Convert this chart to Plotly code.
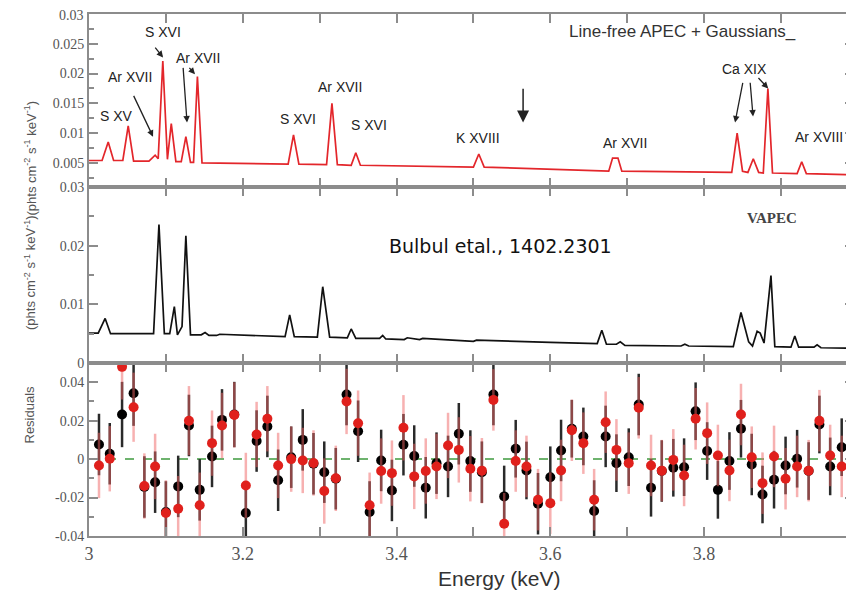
import plotly.graph_objects as go

# ---------------- data ----------------
# Top panel: line-free APEC + Gaussians model (red)
red_E = [3.000, 3.017, 3.025, 3.032, 3.044, 3.051, 3.058, 3.078, 3.086, 3.090,
         3.096, 3.102, 3.107, 3.113, 3.120, 3.126, 3.132, 3.136, 3.141, 3.147,
         3.259, 3.266, 3.273, 3.309, 3.316, 3.323, 3.341, 3.347, 3.353, 3.500,
         3.507, 3.514, 3.676, 3.681, 3.688, 3.693, 3.836, 3.843, 3.850, 3.857,
         3.864, 3.871, 3.877, 3.883, 3.889, 3.921, 3.927, 3.933, 3.995]
red_F = [0.0054, 0.0054, 0.0085, 0.0054, 0.0054, 0.0112, 0.0053, 0.0053, 0.0063, 0.0057,
         0.0221, 0.0056, 0.0116, 0.0052, 0.0052, 0.0094, 0.0051, 0.0051, 0.0195, 0.0050,
         0.0048, 0.0097, 0.0048, 0.0047, 0.0150, 0.0047, 0.0046, 0.0067, 0.0046, 0.0043,
         0.0065, 0.0043, 0.0036, 0.0058, 0.0058, 0.0036, 0.0034, 0.0100, 0.0036, 0.0034,
         0.0057, 0.0034, 0.0033, 0.0175, 0.0033, 0.0032, 0.0052, 0.0032, 0.0030]

# Middle panel: VAPEC model (black)
blk_E = [3.000, 3.012, 3.021, 3.028, 3.084, 3.091, 3.098, 3.105, 3.111, 3.115,
         3.121, 3.126, 3.132, 3.146, 3.151, 3.156, 3.166, 3.170, 3.255, 3.261,
         3.267, 3.297, 3.304, 3.313, 3.336, 3.341, 3.347, 3.378, 3.382, 3.386,
         3.410, 3.414, 3.430, 3.434, 3.500, 3.504, 3.600, 3.661, 3.667, 3.673,
         3.686, 3.691, 3.697, 3.770, 3.775, 3.780, 3.838, 3.848, 3.858, 3.863,
         3.869, 3.873, 3.878, 3.887, 3.892, 3.913, 3.918, 3.923, 3.943, 3.947,
         3.952, 3.995]
blk_F = [0.0051, 0.0051, 0.0076, 0.0050, 0.0050, 0.0236, 0.0050, 0.0050, 0.0096, 0.0048,
         0.0062, 0.0217, 0.0048, 0.0048, 0.0052, 0.0047, 0.0047, 0.0049, 0.0045, 0.0082,
         0.0045, 0.0044, 0.0130, 0.0044, 0.0043, 0.0058, 0.0042, 0.0042, 0.0047, 0.0041,
         0.0040, 0.0043, 0.0040, 0.0042, 0.0037, 0.0039, 0.0035, 0.0033, 0.0056, 0.0032,
         0.0032, 0.0036, 0.0030, 0.0029, 0.0032, 0.0029, 0.0028, 0.0086, 0.0036, 0.0029,
         0.0054, 0.0051, 0.0034, 0.0149, 0.0028, 0.0027, 0.0046, 0.0027, 0.0027, 0.0031,
         0.0026, 0.0025]

# Bottom panel: residuals
res_E = [3.013, 3.027, 3.043, 3.058, 3.072, 3.086, 3.100, 3.116, 3.130, 3.144,
         3.160, 3.173, 3.189, 3.204, 3.218, 3.232, 3.246, 3.263, 3.278, 3.292,
         3.306, 3.321, 3.335, 3.350, 3.365, 3.380, 3.394, 3.409, 3.423, 3.438,
         3.452, 3.467, 3.481, 3.496, 3.511, 3.526, 3.540, 3.555, 3.569, 3.584,
         3.600, 3.614, 3.628, 3.643, 3.657, 3.672, 3.686, 3.702, 3.715, 3.731,
         3.745, 3.760, 3.774, 3.789, 3.804, 3.818, 3.833, 3.848, 3.862, 3.876,
         3.891, 3.906, 3.921, 3.936, 3.950, 3.964, 3.979]
res_blk = [0.0076, 0.0028, 0.0232, 0.0343, -0.0145, -0.0120, -0.0275, -0.0142, 0.0175, -0.0160,
           0.0014, 0.0204, 0.0232, -0.0280, 0.0094, 0.0170, -0.0110, 0.0010, 0.0100, -0.0024,
           -0.0068, -0.0102, 0.0336, 0.0145, -0.0275, -0.0007, -0.0163, 0.0075, 0.0016, -0.0149,
           -0.0021, -0.0038, 0.0132, -0.0010, -0.0068, 0.0336, -0.0194, 0.0054, -0.0059, -0.0232,
           -0.0094, 0.0045, 0.0158, 0.0118, -0.0270, 0.0118, -0.0021, 0.0010, 0.0284, -0.0149,
           -0.0062, -0.0045, -0.0042, 0.0249, 0.0042, -0.0160, -0.0010, 0.0158, -0.0028, -0.0184,
           -0.0107, -0.0033, 0.0002, -0.0062, 0.0180, -0.0038, 0.0062]
res_blk_err = [0.016, 0.016, 0.017, 0.017, 0.016, 0.016, 0.016, 0.016, 0.016, 0.016,
               0.016, 0.016, 0.017, 0.016, 0.016, 0.016, 0.016, 0.016, 0.016, 0.016,
               0.016, 0.016, 0.016, 0.016, 0.016, 0.016, 0.016, 0.016, 0.016, 0.016,
               0.016, 0.016, 0.016, 0.016, 0.016, 0.016, 0.016, 0.015, 0.015, 0.016,
               0.016, 0.016, 0.015, 0.015, 0.016, 0.016, 0.015, 0.015, 0.016, 0.015,
               0.016, 0.015, 0.015, 0.015, 0.015, 0.015, 0.015, 0.015, 0.016, 0.015,
               0.015, 0.015, 0.015, 0.015, 0.015, 0.015, 0.015]
res_red = [-0.0033, 0.0002, 0.0480, 0.0270, -0.0140, -0.0038, -0.0280, -0.0258, 0.0200, -0.0240,
           0.0083, 0.0175, 0.0230, -0.0137, 0.0128, 0.0210, -0.0033, 0.0000, -0.0007, -0.0020,
           -0.0166, -0.0100, 0.0300, 0.0187, -0.0240, -0.0062, -0.0073, 0.0163, -0.0090, -0.0062,
           -0.0038, 0.0071, 0.0048, -0.0050, -0.0060, 0.0308, -0.0336, -0.0010, -0.0038, -0.0211,
           -0.0229, -0.0059, 0.0150, 0.0083, -0.0211, 0.0192, 0.0048, -0.0021, 0.0267, -0.0033,
           -0.0060, -0.0004, -0.0085, 0.0210, 0.0135, 0.0019, -0.0059, 0.0232, 0.0010, -0.0125,
           0.0014, -0.0102, -0.0038, -0.0060, 0.0200, 0.0019, -0.0038]
res_red_err = [0.017, 0.017, 0.017, 0.018, 0.017, 0.017, 0.017, 0.017, 0.018, 0.017,
               0.017, 0.017, 0.017, 0.017, 0.017, 0.017, 0.017, 0.017, 0.017, 0.017,
               0.017, 0.017, 0.017, 0.017, 0.017, 0.017, 0.017, 0.017, 0.017, 0.017,
               0.017, 0.017, 0.017, 0.017, 0.017, 0.016, 0.016, 0.016, 0.016, 0.016,
               0.016, 0.016, 0.016, 0.016, 0.016, 0.016, 0.016, 0.016, 0.016, 0.016,
               0.016, 0.016, 0.016, 0.016, 0.016, 0.016, 0.016, 0.016, 0.016, 0.016,
               0.016, 0.016, 0.016, 0.016, 0.016, 0.016, 0.016]

# tick labels (top label of the upper panel is drawn separately below)
top_ytick_vals = [0.005, 0.01, 0.015, 0.02, 0.025, 0.03]
top_ytick_text = ["0.005", "0.01", "0.015", "0.02", "0.025", ""]
top_label_max = "0.03"
mid_ytick_vals = [0, 0.01, 0.02, 0.03]
mid_ytick_text = ["0", "0.01", "0.02", "0.03"]
res_ytick_vals = [-0.04, -0.02, 0, 0.02, 0.04]
res_ytick_text = ["-0.04", "-0.02", "0", "0.02", "0.04"]
x_tick_vals = [3.0, 3.2, 3.4, 3.6, 3.8, 4.0]
x_tick_text = ["3", "3.2", "3.4", "3.6", "3.8", "4"]

# line identifications (text, energy, flux) in top panel
line_labels = [
    ("S XV", 3.036, 0.0128),
    ("Ar XVII", 3.053, 0.0194),
    ("S XVI", 3.096, 0.0270),
    ("Ar XVII", 3.142, 0.0226),
    ("S XVI", 3.272, 0.0123),
    ("Ar XVII", 3.3265, 0.0178),
    ("S XVI", 3.364, 0.0114),
    ("K XVIII", 3.506, 0.0092),
    ("Ar XVII", 3.697, 0.0084),
    ("Ca XIX", 3.852, 0.0207),
]
# arrows (tail E, tail F, head E, head F)
line_arrows = [
    (3.0572, 0.0165, 3.0833, 0.0094),
    (3.0846, 0.0246, 3.0963, 0.0227),
    (3.1223, 0.0212, 3.1275, 0.0118),
    (3.1288, 0.0212, 3.1379, 0.0199),
    (3.8507, 0.0187, 3.8403, 0.0118),
    (3.8598, 0.0187, 3.8637, 0.0128),
    (3.8689, 0.0195, 3.8834, 0.0175),
]

# ---------------- figure ----------------
# the page body adds an 8 px offset; the figure fills the rest of the window
W, H, OFF = 846, 582, 8


def fx(px):
    return (px - OFF) / W


def fy(py):
    return 1 - (py - OFF) / H


GRAY = "#8c8c8c"
XDOM = [fx(89), 1.0]
XRANGE = [3.0, 3.995]
TICKFONT = dict(family="Liberation Serif", size=14, color="#555555")


def axis(**kw):
    d = dict(showline=True, linecolor=GRAY, linewidth=2, mirror="ticks",
             ticks="inside", tickcolor=GRAY, tickwidth=1.5, ticklen=9,
             showgrid=False, zeroline=False, automargin=False, tickfont=TICKFONT)
    d.update(kw)
    return d


fig = go.Figure()

# top panel
fig.add_trace(go.Scatter(x=red_E, y=red_F, mode="lines", xaxis="x3", yaxis="y3",
                         line=dict(color="#e3262b", width=1.7), hoverinfo="skip"))
# middle panel
fig.add_trace(go.Scatter(x=blk_E, y=blk_F, mode="lines", xaxis="x2", yaxis="y2",
                         line=dict(color="#111111", width=1.7), hoverinfo="skip"))
# residuals
fig.add_trace(go.Scatter(x=res_E, y=res_blk, mode="markers", xaxis="x", yaxis="y",
                         marker=dict(color="#000000", size=10),
                         error_y=dict(type="data", array=res_blk_err, color="#2a2a2a",
                                      thickness=2.5, width=0)))
fig.add_trace(go.Scatter(x=res_E, y=res_red, mode="markers", xaxis="x", yaxis="y",
                         marker=dict(color="#e0201c", size=10),
                         error_y=dict(type="data", array=res_red_err,
                                      color="rgba(240,100,100,0.5)", thickness=2.5, width=0)))

minor_x = dict(ticks="inside", dtick=0.1, tick0=3.0, ticklen=9, tickcolor=GRAY, tickwidth=1.5)

fig.update_layout(
    width=W, height=H,
    margin=dict(l=0, r=0, t=0, b=0, pad=0, autoexpand=False),
    paper_bgcolor="white", plot_bgcolor="white", showlegend=False,
    xaxis=axis(domain=XDOM, anchor="y", range=XRANGE, tickmode="array",
               tickvals=x_tick_vals, ticktext=x_tick_text, minor=minor_x,
               tickfont=dict(family="Liberation Serif", size=18, color="#555555")),
    xaxis2=axis(domain=XDOM, anchor="y2", range=XRANGE, tickmode="array",
                tickvals=x_tick_vals, showticklabels=False, minor=minor_x),
    xaxis3=axis(domain=XDOM, anchor="y3", range=XRANGE, tickmode="array",
                tickvals=x_tick_vals, showticklabels=False, minor=minor_x),
    yaxis=axis(domain=[fy(536), fy(363)], anchor="x", range=[-0.04, 0.05],
               tickmode="array", tickvals=res_ytick_vals, ticktext=res_ytick_text,
               minor=dict(ticks="inside", dtick=0.01, tick0=0, ticklen=5,
                          tickcolor=GRAY, tickwidth=1.5)),
    yaxis2=axis(domain=[fy(363), fy(187)], anchor="x2", range=[0, 0.03],
                tickmode="array", tickvals=mid_ytick_vals, ticktext=mid_ytick_text,
                minor=dict(ticks="inside", dtick=0.005, tick0=0, ticklen=5,
                           tickcolor=GRAY, tickwidth=1.5)),
    yaxis3=axis(domain=[fy(187), fy(14)], anchor="x3", range=[0.00095, 0.03],
                tickmode="array", tickvals=top_ytick_vals, ticktext=top_ytick_text,
                minor=dict(ticks="inside", dtick=0.0025, tick0=0, ticklen=5,
                           tickcolor=GRAY, tickwidth=1.5)),
)

# zero line in residuals
fig.add_shape(type="line", xref="x domain", yref="y", x0=0, x1=1, y0=0, y1=0,
              line=dict(color="#3f9a3f", width=1.5, dash="dash"), layer="below")

ann = []
# top-most tick label of the upper panel
ann.append(dict(text=top_label_max, x=fx(86), y=fy(16), xref="paper", yref="paper",
                showarrow=False, xanchor="right", yanchor="middle", font=TICKFONT))
lab_font = dict(family="Liberation Sans", size=14, color="#222222")
for txt, e, f in line_labels:
    ann.append(dict(text=txt, x=e, y=f, xref="x3", yref="y3", showarrow=False,
                    font=lab_font, xanchor="center", yanchor="middle"))
ann.append(dict(text="Ar XVIII", x=3.9158, y=0.0094, xref="x3", yref="y3",
                showarrow=False, font=lab_font, xanchor="left", yanchor="middle"))
for te, tf, he, hf in line_arrows:
    ann.append(dict(text="", x=he, y=hf, ax=te, ay=tf, xref="x3", yref="y3",
                    axref="x3", ayref="y3", showarrow=True, arrowhead=2,
                    arrowsize=1, arrowwidth=1.3, arrowcolor="#222222", standoff=0))
# big down arrow
ann.append(dict(text="", x=3.5646, y=0.0118, ax=3.5646, ay=0.0177, xref="x3", yref="y3",
                axref="x3", ayref="y3", showarrow=True, arrowhead=2, arrowsize=1.6,
                arrowwidth=1.5, arrowcolor="#222222", standoff=0))
ann.append(dict(text="Line-free APEC + Gaussians_", x=3.6218, y=0.0270, xref="x3", yref="y3",
                showarrow=False, xanchor="left", yanchor="middle",
                font=dict(family="Liberation Sans", size=17, color="#333333")))
ann.append(dict(text="<b>VAPEC</b>", x=3.888, y=0.0248, xref="x2", yref="y2",
                showarrow=False, xanchor="center", yanchor="middle",
                font=dict(family="Liberation Serif", size=15, color="#444444")))
ann.append(dict(text="Bulbul etal., 1402.2301", x=3.5346, y=0.0200, xref="x2", yref="y2",
                showarrow=False, xanchor="center", yanchor="middle",
                font=dict(family="DejaVu Sans", size=19, color="#111111")))
ytitle = "(phts cm<sup>-2</sup> s<sup>-1</sup> keV<sup>-1</sup>)"
ann.append(dict(text=ytitle, x=fx(20), y=fy(99), xref="paper", yref="paper",
                textangle=-90, showarrow=False,
                font=dict(family="Liberation Sans", size=13, color="#555555")))
ann.append(dict(text=ytitle, x=fx(20), y=fy(273), xref="paper", yref="paper",
                textangle=-90, showarrow=False,
                font=dict(family="Liberation Sans", size=13, color="#555555")))
ann.append(dict(text="Residuals", x=fx(19), y=fy(446), xref="paper", yref="paper",
                textangle=-90, showarrow=False,
                font=dict(family="Liberation Sans", size=13, color="#555555")))
ann.append(dict(text="Energy (keV)", x=fx(500), y=fy(578), xref="paper", yref="paper",
                showarrow=False, yanchor="middle",
                font=dict(family="Liberation Sans", size=21, color="#333333")))
fig.update_layout(annotations=ann)

fig.write_html("out.html")
